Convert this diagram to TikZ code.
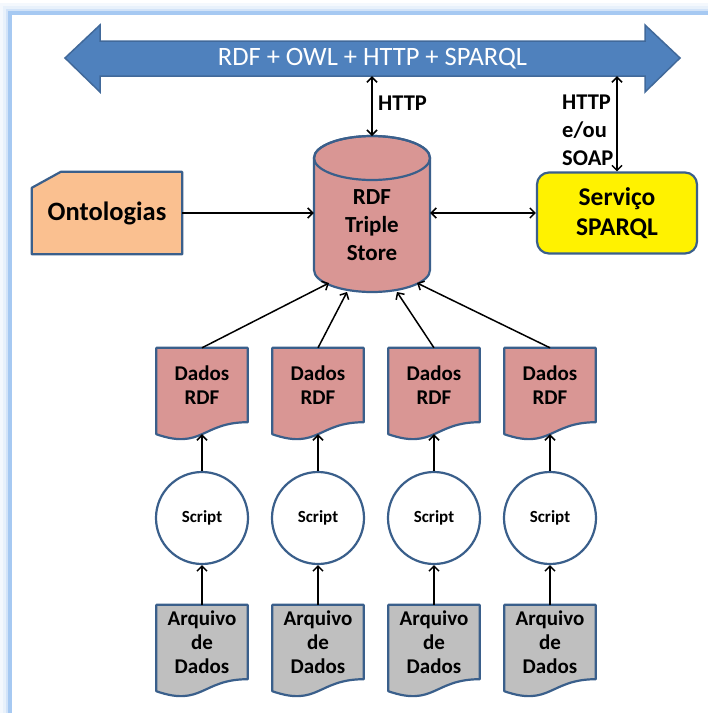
\documentclass[tikz,border=0pt]{standalone}
\usepackage{fontspec}
\setmainfont{Carlito}
\usetikzlibrary{arrows.meta,calc,backgrounds}

\definecolor{edgeblue}{HTML}{3A5F8B}
\definecolor{busblue}{HTML}{4F81BD}
\definecolor{busedge}{HTML}{41699A}
\definecolor{peach}{HTML}{FAC090}
\definecolor{rose}{HTML}{D99694}
\definecolor{fileg}{HTML}{BFBFBF}
\definecolor{frameblue}{HTML}{A6C9F2}

\tikzset{
  tip/.tip={Straight Barb[length=5pt,width=10pt]},
  linkarrow/.style={draw=black, line width=1.5pt, -tip},
  biarrow/.style={draw=black, line width=1.5pt, tip-tip},
  shapeline/.style={draw=edgeblue, line width=2.2pt, line join=round},
  docbox/.style={minimum width=91pt, minimum height=74pt, inner sep=0pt, align=center,
    font=\bfseries\fontsize{21}{24}\selectfont},
  scriptnode/.style={circle, minimum size=92pt, inner sep=0pt, fill=white, shapeline,
    font=\bfseries\fontsize{17}{20}\selectfont},
  tag/.style={anchor=west, inner sep=0pt, align=left,
    font=\bfseries\fontsize{22.5}{28}\selectfont},
}

% document outline with a wavy lower edge, hung on a node's box
\newcommand\docpath[2]{%
  \path[shapeline, fill=#2] (#1.north west) -- (#1.north east) -- (#1.south east)
    .. controls (#1.south) and ($(#1.south)+(0,28)$) .. ($(#1.south west)+(0,12)$) -- cycle;}

\begin{document}
\begin{tikzpicture}[x=1pt, y=-1pt]
\useasboundingbox (0,0) rectangle (708,713);

% shared bus arrow
\path[fill=busblue, draw=busedge, line width=1.5pt, line join=miter]
  (65,58) -- (100,25) -- (100,41) -- (645,41) -- (645,25) -- (680,58)
  -- (645,92) -- (645,76) -- (100,76) -- (100,92) -- cycle;
\node (bus) at (372.5,58.5) [minimum width=545pt, minimum height=35pt, inner sep=0pt,
  text=white, font=\fontsize{26.5}{30}\selectfont] {RDF + OWL + HTTP + SPARQL};

% triple store, ontologies and SPARQL endpoint
\node (store) at (372,225) [minimum width=116pt, minimum height=134pt, inner sep=0pt,
  align=center, font=\bfseries\fontsize{23}{28}\selectfont] {RDF\\Triple\\Store};
\coordinate (storetop) at (372,136);
\node (onto) at (107,213) [minimum width=150pt, minimum height=82pt, inner sep=0pt,
  font=\bfseries\fontsize{26.5}{30}\selectfont] {Ontologias};
\node (svc) at (617,213) [minimum width=160pt, minimum height=81pt, inner sep=0pt,
  rounded corners=12pt, fill=yellow, shapeline, align=center,
  font=\bfseries\fontsize{25.5}{30}\selectfont] {Serviço\\SPARQL};

\node (httpa) at (378,103) [tag] {HTTP};
\node (httpb) at (562,130) [tag] {HTTP\\e/ou\\SOAP};

\draw[biarrow] (storetop) -- (storetop |- bus.south);
\draw[biarrow] (svc.north) -- (svc.north |- bus.south);
\draw[linkarrow] (onto.east) -- (store.west |- onto.east);
\draw[biarrow] (store.east |- svc.west) -- (svc.west);

% entry points on the bottom of the store
\coordinate (in1) at (329,283);
\coordinate (in2) at (347,292);
\coordinate (in3) at (397,292);
\coordinate (in4) at (417,283);

% the four loading pipelines
\foreach \i/\x in {1/202,2/318,3/434,4/550} {
  \node (rdf\i) at (\x,385) [docbox] {Dados\\RDF};
  \coordinate (rdfb\i) at ($(rdf\i.south)+(0,12)$);
  \node (scr\i) at (\x,518) [scriptnode] {Script};
  \node (arq\i) at (\x,642) [docbox] {Arquivo\\de\\Dados};
  \draw[linkarrow] (arq\i.north) -- (scr\i.south);
  \draw[linkarrow] (scr\i.north) -- (rdfb\i);
  \draw[linkarrow] (rdf\i.north) -- (in\i);
}

\begin{scope}[on background layer]
  \fill[white] (0,0) rectangle (708,713);
  % glowing frame
  \foreach \o/\op in {9/0.12, 6/0.25, 3/0.5}
    \draw[frameblue, line width=3pt, opacity=\op] (10-\o,13-\o) rectangle (900,900);
  \draw[frameblue, line width=3.5pt] (10,13) rectangle (900,900);
  % cylinder body and lid
  \path[shapeline, fill=rose] (314,158) -- (314,270)
    arc[start angle=180, end angle=360, x radius=58pt, y radius=22pt]
    -- (430,158) arc[start angle=0, end angle=180, x radius=58pt, y radius=22pt] -- cycle;
  \draw[shapeline] (372,158) ellipse [x radius=58pt, y radius=22pt];
  % snipped card
  \path[shapeline, fill=peach] (onto.south west) -- ($(onto.north west)+(0,16)$)
    -- ($(onto.north west)+(29,0)$) -- (onto.north east) -- (onto.south east) -- cycle;
  \foreach \i in {1,...,4} {
    \docpath{rdf\i}{rose}
    \docpath{arq\i}{fileg}
  }
\end{scope}
\end{tikzpicture}
\end{document}
